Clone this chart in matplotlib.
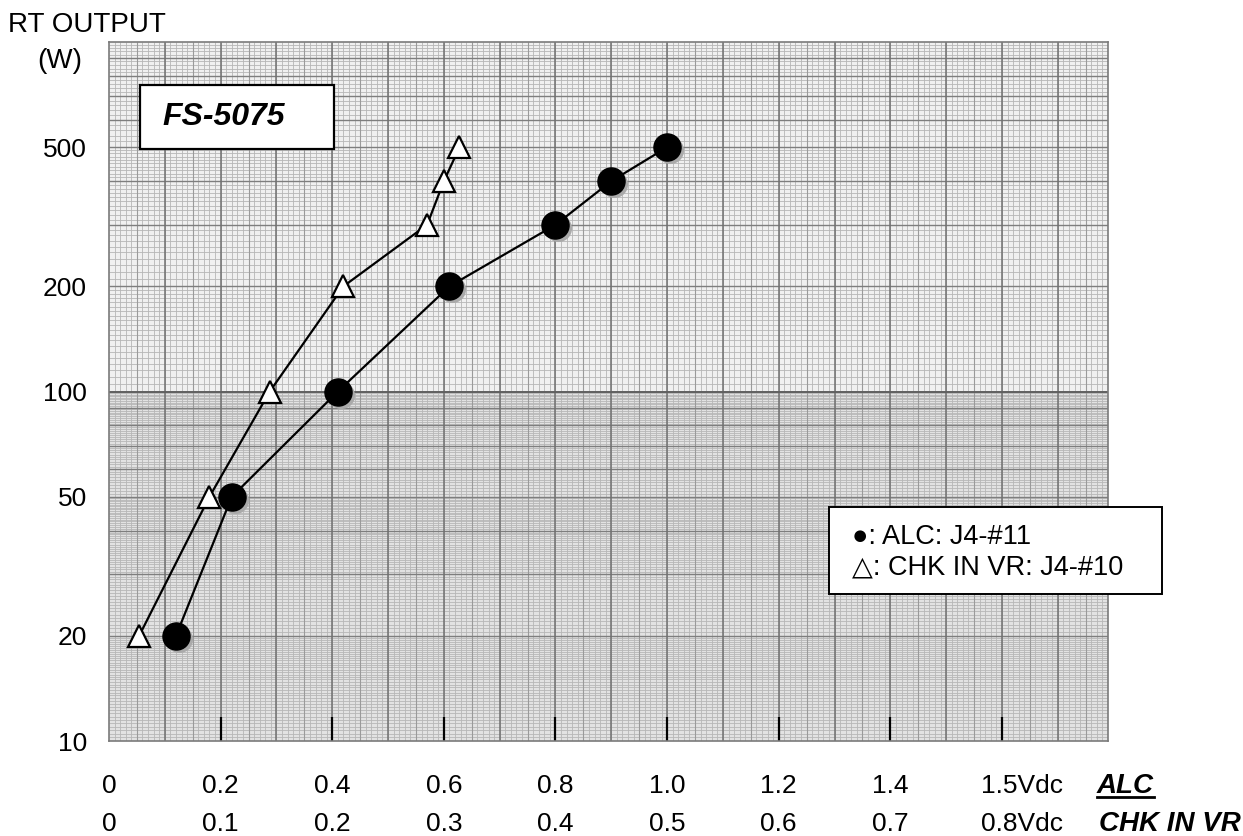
import numpy as np
import matplotlib
matplotlib.use("Agg")
import matplotlib.pyplot as plt
from matplotlib.patches import Rectangle
from matplotlib.lines import Line2D
from matplotlib.ticker import NullLocator
from matplotlib.transforms import offset_copy

plt.rcParams['font.family'] = ['Liberation Sans', 'DejaVu Sans']

# RT output power (W) for each measured point
power_w = [20, 50, 100, 200, 300, 400, 500]
# ALC voltage at J4-#11 (Vdc)
alc_v = [0.12, 0.22, 0.41, 0.61, 0.80, 0.90, 1.00]
# CHK IN VR voltage at J4-#10 (Vdc)
chk_v = [0.027, 0.09, 0.144, 0.21, 0.285, 0.30, 0.314]

y_ticks = [10, 20, 50, 100, 200, 500]
x_ticks = [0, 0.2, 0.4, 0.6, 0.8, 1.0, 1.2, 1.4, 1.6]
alc_labels = ['0', '0.2', '0.4', '0.6', '0.8', '1.0', '1.2', '1.4', '1.5Vdc']
chk_labels = ['0', '0.1', '0.2', '0.3', '0.4', '0.5', '0.6', '0.7', '0.8Vdc']

XMAX = 1.79

fig = plt.figure(figsize=(12.43, 8.36), dpi=100)
ax = fig.add_axes([0.0877, 0.1136, 0.8037, 0.8361])
ax.set_yscale('log')
ax.set_xlim(0, XMAX)
ax.set_ylim(10, 1000)

# graph paper background
ax.axhspan(100, 1000, color='#f0f0f0', lw=0, zorder=0)
ax.axhspan(10, 100, color='#e2e2e2', lw=0, zorder=0)
ax.vlines(np.arange(0.01, XMAX, 0.01), 10, 1000, color='#b6b6b6', lw=0.6, zorder=0.5)
ax.vlines(np.arange(0.05, XMAX, 0.1), 10, 1000, color='#9a9a9a', lw=0.8, zorder=0.6)
ax.vlines(np.arange(0.1, XMAX, 0.1), 10, 1000, color='#707070', lw=1.1, zorder=0.7)
fine_h = np.concatenate([np.arange(10, 20, 0.25), np.arange(20, 50, 0.5), np.arange(50, 100, 1),
                         np.arange(100, 200, 5), np.arange(200, 500, 10), np.arange(500, 1000, 20)])
ax.hlines(fine_h, 0, XMAX, color='#b6b6b6', lw=0.6, zorder=0.5)
mid_h = np.concatenate([np.arange(20, 100, 10), np.arange(200, 1000, 100)])
ax.hlines(mid_h, 0, XMAX, color='#7e7e7e', lw=1.0, zorder=0.6)
ax.hlines([100], 0, XMAX, color='#606060', lw=1.4, zorder=0.7)

for s in ax.spines.values():
    s.set_color('#7a7a7a')
    s.set_linewidth(1.2)

# axis ticks
ax.set_xticks(x_ticks[1:])
ax.tick_params(axis='x', direction='in', length=17, width=1.6, color='black',
               labelbottom=False)
ax.set_yticks(y_ticks)
ax.set_yticklabels([str(v) for v in y_ticks])
ax.yaxis.set_minor_locator(NullLocator())
ax.tick_params(axis='y', length=0, pad=16, labelsize=19)

xt = ax.get_xaxis_transform()
for x, a, c in zip(x_ticks, alc_labels, chk_labels):
    for lab, yy in ((a, -0.0644), (c, -0.1187)):
        if lab.endswith('Vdc'):
            ax.annotate(lab, (x, yy), xycoords=xt, xytext=(-15, 0),
                        textcoords='offset points', ha='left', va='center', fontsize=19)
        else:
            ax.text(x, yy, lab, transform=xt, ha='center', va='center', fontsize=19)

# ALC curve (filled circles with soft shadow)
shadow = offset_copy(ax.transData, fig=fig, x=3, y=-3, units='dots')
ax.plot(alc_v, power_w, ls='none', marker='o', ms=19.5, color='#aaaaaa',
        mec='none', transform=shadow, zorder=2)
ax.plot(alc_v, power_w, color='black', lw=1.6, marker='o', ms=19.5,
        mfc='black', mec='black', zorder=4)

# CHK IN VR curve on its own voltage scale
ax2 = ax.twiny()
ax2.set_xlim(0, XMAX / 2)
ax2.set_axis_off()
ax2.plot(chk_v, power_w, color='black', lw=1.6, marker='^', ms=16,
         mfc='white', mec='black', mew=1.6, zorder=4)

# model name box
ax.add_patch(Rectangle((0.031, 0.847), 0.194, 0.0915, transform=ax.transAxes,
                       fc='white', ec='black', lw=1.6, zorder=6))
ax.text(0.115, 0.893, 'FS-5075', transform=ax.transAxes, ha='center', va='center',
        fontsize=23, fontweight='bold', fontstyle='italic', zorder=7)

# legend box
fig.add_artist(Rectangle((0.6669, 0.2895), 0.2679, 0.1041, transform=fig.transFigure,
                         fc='white', ec='black', lw=1.4, zorder=5))
fig.text(0.6854, 0.3577, '●: ALC: J4-#11', ha='left', va='center', fontsize=19.5, zorder=6)
fig.text(0.6854, 0.3206, '△: CHK IN VR: J4-#10', ha='left', va='center', fontsize=19.5, zorder=6)

# axis titles
fig.text(0.0064, 0.970, 'RT OUTPUT', ha='left', va='center', fontsize=20)
fig.text(0.0483, 0.927, '(W)', ha='center', va='center', fontsize=20)
alc_t = fig.text(0.8825, 0.0598, 'ALC', ha='left', va='center', fontsize=20,
                 fontweight='bold', fontstyle='italic')
fig.text(0.8842, 0.0144, 'CHK IN VR', ha='left', va='center', fontsize=20,
         fontweight='bold', fontstyle='italic')

# underline under ALC
fig.canvas.draw()
bb = alc_t.get_window_extent().transformed(fig.transFigure.inverted())
fig.add_artist(Line2D([bb.x0, bb.x1], [bb.y0 + 0.002, bb.y0 + 0.002],
                      transform=fig.transFigure, color='black', lw=2.0))

fig.savefig('out.png', dpi=100)
